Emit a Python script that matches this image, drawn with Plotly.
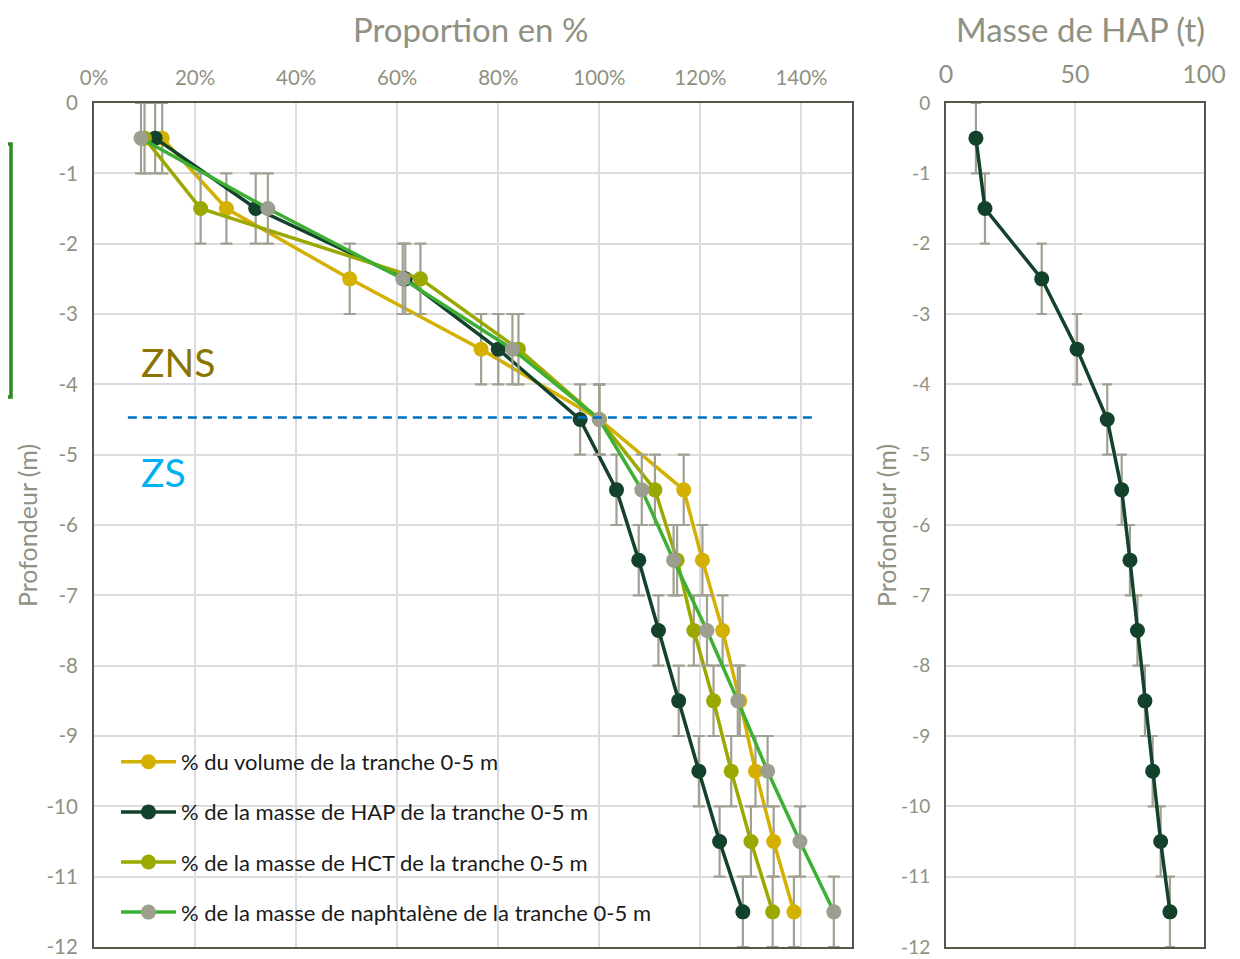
import plotly.graph_objects as go

# ---------------- data ----------------
depths = [-0.5, -1.5, -2.5, -3.5, -4.5, -5.5, -6.5, -7.5, -8.5, -9.5, -10.5, -11.5]
depth_err = [0.5] * 12

pct_volume = [0.135, 0.262, 0.506, 0.766, 1.000, 1.167, 1.204, 1.244, 1.278, 1.309, 1.345, 1.385]
pct_hap = [0.121, 0.320, 0.616, 0.800, 0.962, 1.034, 1.078, 1.117, 1.157, 1.197, 1.238, 1.284]
pct_hct = [0.100, 0.211, 0.646, 0.840, 1.000, 1.110, 1.154, 1.187, 1.226, 1.261, 1.300, 1.343]
pct_naph = [0.093, 0.344, 0.611, 0.828, 1.000, 1.084, 1.147, 1.213, 1.274, 1.333, 1.397, 1.464]

mass_hap_t = [11.6, 15.1, 37.1, 50.8, 62.5, 68.1, 71.3, 74.2, 77.1, 80.1, 83.2, 86.8]

series_names = [
    "% du volume de la tranche 0-5 m",
    "% de la masse de HAP de la tranche 0-5 m",
    "% de la masse de HCT de la tranche 0-5 m",
    "% de la masse de naphtalène de la tranche 0-5 m",
]

pct_ticks = [0, 0.2, 0.4, 0.6, 0.8, 1.0, 1.2, 1.4]
pct_ticklabels = ["0%", "20%", "40%", "60%", "80%", "100%", "120%", "140%"]
mass_ticks = [0, 50, 100]
depth_ticks = [0, -1, -2, -3, -4, -5, -6, -7, -8, -9, -10, -11, -12]
depth_ticklabels = ["0", "-1", "-2", "-3", "-4", "-5", "-6", "-7", "-8", "-9", "-10", "-11", "-12"]

water_table = -4.47
dash_x = [0.067, 1.428]

# ---------------- style ----------------
OFF = 8                      # page body margin
W, H = 1240 - OFF, 959 - OFF
FONT = "Lato"
GREY_TXT = "#8F9182"
FRAME = "#55574A"
GRID = "#DCDCDC"
ERR = "#A0A092"

line_colors = ["#D4B000", "#12412C", "#9AA800", "#3DB033"]
marker_colors = ["#D4B000", "#12412C", "#9AA800", "#9C9E90"]

def px_x(p):
    return (p - OFF) / W

def px_y(p):
    return 1 - (p - OFF) / H

fig = go.Figure()

series = [pct_volume, pct_hap, pct_hct, pct_naph]
for i, vals in enumerate(series):
    fig.add_trace(go.Scatter(
        x=vals, y=depths, mode="lines+markers", name=series_names[i],
        legendgroup=f"g{i}",
        line=dict(color=line_colors[i], width=3.5),
        marker=dict(color=marker_colors[i], size=15),
        error_y=dict(type="data", array=depth_err, visible=True,
                     color=ERR, thickness=2.2, width=6),
        xaxis="x", yaxis="y",
    ))

fig.add_trace(go.Scatter(
    x=mass_hap_t, y=depths, mode="lines+markers", name="Masse HAP",
    showlegend=False,
    line=dict(color=line_colors[1], width=3.5),
    marker=dict(color=marker_colors[1], size=15),
    error_y=dict(type="data", array=depth_err, visible=True,
                 color=ERR, thickness=2.2, width=5),
    xaxis="x2", yaxis="y2",
))

fig.add_shape(type="line", xref="x", yref="y",
              x0=dash_x[0], x1=dash_x[1], y0=water_table, y1=water_table,
              line=dict(color="#0070C0", width=2.5, dash="9px,6px"))

# green bracket at the left edge
fig.add_shape(type="path", xref="paper", yref="paper",
              path=(f"M {px_x(8)} {px_y(144)} L {px_x(11)} {px_y(144)} "
                    f"L {px_x(11)} {px_y(397)} L {px_x(8)} {px_y(397)}"),
              line=dict(color="#2E8B22", width=3.5))

axis_common = dict(showline=True, linecolor=FRAME, linewidth=2, mirror=True,
                   gridcolor=GRID, gridwidth=1.5, zeroline=False, ticks="",
                   tickfont=dict(family=FONT, size=20.5, color=GREY_TXT))

y_top, y_bot = 103, 947
fig.update_layout(
    width=W, height=H,
    margin=dict(l=0, r=0, t=0, b=0, autoexpand=False),
    paper_bgcolor="white", plot_bgcolor="white",
    font=dict(family=FONT, color=GREY_TXT),
    xaxis=dict(domain=[px_x(94), px_x(852)], range=[0, 1.5], side="top",
               tickvals=pct_ticks, ticktext=pct_ticklabels, anchor="y",
               ticklabelstandoff=8, **axis_common),
    yaxis=dict(domain=[px_y(y_bot), px_y(y_top)], range=[-12, 0],
               tickvals=depth_ticks, ticktext=depth_ticklabels, anchor="x",
               ticklabelstandoff=10, **axis_common),
    xaxis2=dict(domain=[px_x(946), px_x(1204)], range=[0, 100], side="top",
                tickvals=mass_ticks, anchor="y2", ticklabelstandoff=8,
                **{**axis_common, "tickfont": dict(family=FONT, size=25, color=GREY_TXT)}),
    yaxis2=dict(domain=[px_y(y_bot), px_y(y_top)], range=[-12, 0],
                tickvals=depth_ticks, ticktext=depth_ticklabels, anchor="x2",
                ticklabelstandoff=10,
                **{**axis_common, "tickfont": dict(family=FONT, size=19, color=GREY_TXT)}),
    legend=dict(x=px_x(116), y=px_y(741), xanchor="left", yanchor="top",
                bgcolor="rgba(0,0,0,0)", itemwidth=55, tracegroupgap=18.5,
                font=dict(family=FONT, size=22, color="#1A1A1A")),
    showlegend=True,
)

annots = [
    dict(text="Proportion en %", x=px_x(470), size=33),
    dict(text="Masse de HAP (t)", x=px_x(1080), size=33),
]
for a in annots:
    fig.add_annotation(text=a["text"], xref="paper", yref="paper", x=a["x"], y=1.0,
                       xanchor="center", yanchor="top", showarrow=False, borderpad=0,
                       font=dict(family=FONT, size=a["size"], color=GREY_TXT))

for xc in [27, 886]:
    fig.add_annotation(text="Profondeur (m)", xref="paper", yref="paper",
                       x=px_x(xc), y=px_y(526), textangle=-90,
                       xanchor="center", yanchor="middle", showarrow=False,
                       font=dict(family=FONT, size=25, color=GREY_TXT))

fig.add_annotation(text="ZNS", xref="x", yref="y", x=0.09, y=-3.68,
                   xanchor="left", yanchor="middle", showarrow=False,
                   font=dict(family=FONT, size=39, color="#8B7400"))
fig.add_annotation(text="ZS", xref="x", yref="y", x=0.09, y=-5.25,
                   xanchor="left", yanchor="middle", showarrow=False,
                   font=dict(family=FONT, size=39, color="#00B0F0"))

fig.write_html("out.html")
